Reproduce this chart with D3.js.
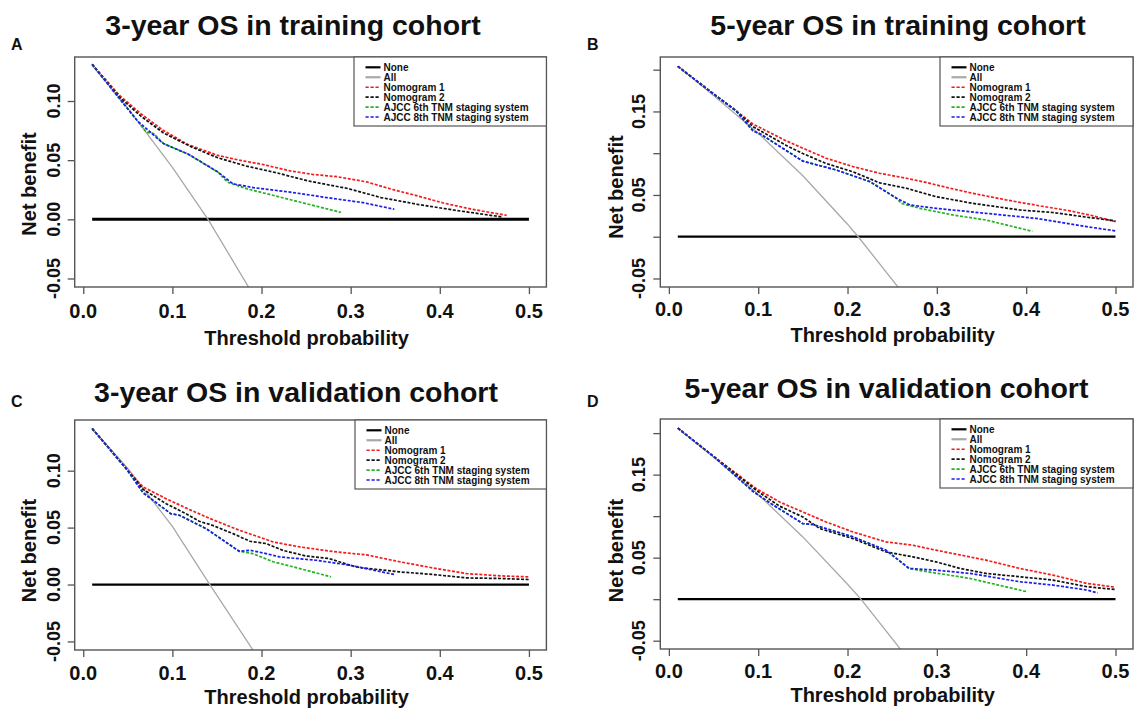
<!DOCTYPE html>
<html><head><meta charset="utf-8">
<script src="https://cdn.jsdelivr.net/npm/d3@7"></script>
<style>
html,body{margin:0;padding:0;background:#fff;}
svg{display:block;}
text{font-family:"Liberation Sans",Arial,Helvetica,sans-serif;font-weight:bold;fill:#111;}
</style></head>
<body>
<svg id="chart" width="1137" height="709"></svg>
<script>
// ---------------- DATA ----------------
const titles = ["3-year OS in training cohort","5-year OS in training cohort","3-year OS in validation cohort","5-year OS in validation cohort"];
const panelLetters = ["A","B","C","D"];
const legendLabels = ["None","All","Nomogram 1","Nomogram 2","AJCC 6th TNM staging system","AJCC 8th TNM staging system"];
const xTicks = [0,0.1,0.2,0.3,0.4,0.5];
const xTickLabels = ["0.0","0.1","0.2","0.3","0.4","0.5"];
const yTicksSmall = [-0.05,0,0.05,0.10];
const yTickLabelsSmall = ["-0.05","0.00","0.05","0.10"];
const yTicksLarge = [-0.05,0,0.05,0.10,0.15,0.20];
const yTickLabelsLarge = ["-0.05","","0.05","","0.15",""];
const noneLine = [[0.01,0],[0.5,0]];

// Panel A: 3-year OS training
const A_all = [[0.01,0.130],[0.05,0.094],[0.10,0.044],[0.14,0.0],[0.19,-0.063]];
const A_nom1 = [[0.01,0.131],[0.041,0.1045],[0.065,0.089],[0.09,0.075],[0.118,0.063],[0.151,0.054],[0.175,0.050],[0.2,0.0466],[0.232,0.041],[0.257,0.038],[0.285,0.036],[0.318,0.0316],[0.346,0.0254],[0.375,0.0198],[0.403,0.014],[0.436,0.0085],[0.475,0.0034]];
const A_nom2 = [[0.01,0.131],[0.041,0.103],[0.065,0.087],[0.09,0.073],[0.122,0.061],[0.151,0.052],[0.183,0.045],[0.216,0.0395],[0.252,0.0325],[0.297,0.026],[0.334,0.0184],[0.375,0.0127],[0.415,0.0079],[0.47,0.002]];
const A_ajcc6 = [[0.01,0.131],[0.041,0.1017],[0.061,0.083],[0.071,0.0735],[0.079,0.0725],[0.09,0.064],[0.118,0.055],[0.151,0.040],[0.162,0.0314],[0.184,0.0257],[0.225,0.018],[0.289,0.0059]];
const A_ajcc8 = [[0.01,0.131],[0.041,0.1017],[0.061,0.083],[0.09,0.064],[0.118,0.055],[0.151,0.040],[0.168,0.030],[0.191,0.0268],[0.232,0.023],[0.273,0.0184],[0.314,0.0141],[0.349,0.0085]];

// Panel B: 5-year OS training
const B_all = [[0.01,0.204],[0.05,0.169],[0.10,0.124],[0.15,0.073],[0.20,0.015],[0.212,0],[0.26,-0.065]];
const B_nom1 = [[0.01,0.204],[0.05,0.171],[0.075,0.151],[0.094,0.135],[0.105,0.129],[0.131,0.115],[0.150,0.106],[0.176,0.094],[0.206,0.084],[0.236,0.076],[0.266,0.070],[0.288,0.065],[0.311,0.059],[0.340,0.052],[0.378,0.044],[0.415,0.037],[0.449,0.031],[0.475,0.025],[0.5,0.018]];
const B_nom2 = [[0.01,0.204],[0.05,0.171],[0.075,0.151],[0.094,0.132],[0.131,0.1095],[0.150,0.0996],[0.176,0.0877],[0.206,0.0778],[0.236,0.0645],[0.266,0.058],[0.299,0.048],[0.340,0.040],[0.393,0.032],[0.430,0.029],[0.468,0.0234],[0.5,0.019]];
const B_ajcc6 = [[0.01,0.204],[0.05,0.171],[0.075,0.151],[0.094,0.127],[0.103,0.1226],[0.150,0.0905],[0.187,0.080],[0.225,0.066],[0.255,0.046],[0.26,0.040],[0.281,0.034],[0.318,0.026],[0.355,0.020],[0.407,0.0065]];
const B_ajcc8 = [[0.01,0.204],[0.05,0.171],[0.075,0.151],[0.094,0.127],[0.103,0.1226],[0.150,0.0905],[0.187,0.080],[0.225,0.066],[0.255,0.046],[0.270,0.038],[0.299,0.034],[0.355,0.028],[0.411,0.022],[0.468,0.012],[0.5,0.007]];

// Panel C: 3-year OS validation
const C_all = [[0.01,0.137],[0.05,0.102],[0.10,0.051],[0.142,0],[0.195,-0.063]];
const C_nom1 = [[0.01,0.137],[0.048,0.102],[0.067,0.0857],[0.093,0.0754],[0.115,0.0673],[0.142,0.058],[0.175,0.0477],[0.213,0.0374],[0.243,0.033],[0.280,0.029],[0.318,0.026],[0.355,0.020],[0.392,0.0146],[0.43,0.0096],[0.468,0.0076],[0.5,0.0067]];
const C_nom2 = [[0.01,0.137],[0.048,0.102],[0.067,0.0836],[0.093,0.071],[0.115,0.0623],[0.130,0.0556],[0.145,0.052],[0.168,0.0447],[0.187,0.038],[0.205,0.036],[0.224,0.030],[0.250,0.025],[0.276,0.0228],[0.299,0.017],[0.310,0.0149],[0.355,0.0111],[0.393,0.0088],[0.43,0.0058],[0.468,0.0053],[0.5,0.0044]];
const C_ajcc6 = [[0.01,0.137],[0.048,0.102],[0.067,0.0807],[0.098,0.0623],[0.108,0.0608],[0.138,0.049],[0.175,0.0292],[0.19,0.0272],[0.213,0.020],[0.243,0.014],[0.278,0.0067]];
const C_ajcc8 = [[0.01,0.137],[0.048,0.102],[0.067,0.0807],[0.098,0.0623],[0.108,0.0608],[0.138,0.049],[0.175,0.0292],[0.187,0.0301],[0.205,0.0272],[0.22,0.0243],[0.261,0.0213],[0.299,0.017],[0.349,0.0088]];

// Panel D: 5-year OS validation
const D_all = [[0.01,0.206],[0.05,0.171],[0.10,0.126],[0.15,0.075],[0.20,0.018],[0.215,0],[0.265,-0.068]];
const D_nom1 = [[0.01,0.206],[0.05,0.172],[0.098,0.133],[0.124,0.117],[0.150,0.105],[0.176,0.093],[0.206,0.081],[0.243,0.069],[0.273,0.065],[0.299,0.059],[0.318,0.055],[0.355,0.047],[0.393,0.037],[0.43,0.029],[0.468,0.019],[0.5,0.0144]];
const D_nom2 = [[0.01,0.206],[0.05,0.172],[0.098,0.131],[0.124,0.112],[0.150,0.099],[0.169,0.085],[0.206,0.073],[0.243,0.057],[0.273,0.051],[0.299,0.045],[0.326,0.037],[0.355,0.031],[0.393,0.027],[0.43,0.023],[0.468,0.015],[0.5,0.0116]];
const D_ajcc6 = [[0.01,0.206],[0.05,0.172],[0.094,0.130],[0.113,0.116],[0.150,0.091],[0.161,0.090],[0.206,0.075],[0.243,0.059],[0.269,0.037],[0.284,0.034],[0.337,0.025],[0.40,0.0092]];
const D_ajcc8 = [[0.01,0.206],[0.05,0.172],[0.094,0.130],[0.113,0.116],[0.150,0.091],[0.161,0.090],[0.206,0.075],[0.243,0.059],[0.269,0.037],[0.299,0.035],[0.337,0.031],[0.393,0.021],[0.43,0.017],[0.468,0.011],[0.48,0.0076]];

// ---------------- LAYOUT / STYLE ----------------
const seriesStyle = [
  {color:"#000000", width:2.2, dash:null},      // None
  {color:"#a8a8a8", width:1.3, dash:null},      // All
  {color:"#f21c1c", width:1.7, dash:"3,1.6"},   // Nomogram 1
  {color:"#111111", width:1.7, dash:"3,1.6"},   // Nomogram 2
  {color:"#22b222", width:1.7, dash:"3,1.6"},   // AJCC 6th
  {color:"#1c1ced", width:1.7, dash:"3,1.6"}    // AJCC 8th
];

const panels = [
  {series:[noneLine,A_all,A_nom1,A_nom2,A_ajcc6,A_ajcc8], box:[74.7,57,546.4,287], yDom:[-0.0572,0.1372],
   yTicks:yTicksSmall, yLabels:yTickLabelsSmall, title:[293,35], letter:[11,50], ylab:[36,184],
   yTickX:60, xTickY:318, xLabY:345, legendLeft:354, noneW:3},
  {series:[noneLine,B_all,B_nom1,B_nom2,B_ajcc6,B_ajcc8], box:[660.3,57,1133,287], yDom:[-0.0602,0.2152],
   yTicks:yTicksLarge, yLabels:yTickLabelsLarge, title:[898,34.5], letter:[587,50], ylab:[623,187],
   yTickX:645, xTickY:316, xLabY:342, legendLeft:940, noneW:2.2},
  {series:[noneLine,C_all,C_nom1,C_nom2,C_ajcc6,C_ajcc8], box:[74.7,420,546.4,650], yDom:[-0.0575,0.1445],
   yTicks:yTicksSmall, yLabels:yTickLabelsSmall, title:[296,401.5], letter:[11,406.5], ylab:[36,550.5],
   yTickX:60, xTickY:680, xLabY:704, legendLeft:355, noneW:2.2},
  {series:[noneLine,D_all,D_nom1,D_nom2,D_ajcc6,D_ajcc8], box:[660.3,419,1133,649], yDom:[-0.06,0.217],
   yTicks:yTicksLarge, yLabels:yTickLabelsLarge, title:[886.5,398], letter:[587,406.5], ylab:[623,550.5],
   yTickX:645, xTickY:678, xLabY:702, legendLeft:940, noneW:2.2}
];

const svg = d3.select("#chart");
svg.append("rect").attr("width",1137).attr("height",709).attr("fill","#fff");
const defs = svg.append("defs");

panels.forEach((p, i) => {
  const [x0,y0,x1,y1] = p.box;
  const x = d3.scaleLinear().domain([-0.0096,0.5196]).range([x0,x1]);
  const y = d3.scaleLinear().domain(p.yDom).range([y1,y0]);
  const g = svg.append("g");

  defs.append("clipPath").attr("id","clip"+i)
    .append("rect").attr("x",x0).attr("y",y0).attr("width",x1-x0).attr("height",y1-y0);

  // axes (ticks only; box drawn separately)
  const xAxis = g.append("g").attr("transform",`translate(0,${y1})`)
    .call(d3.axisBottom(x).tickValues(xTicks).tickSize(7).tickFormat(""));
  const yAxis = g.append("g").attr("transform",`translate(${x0},0)`)
    .call(d3.axisLeft(y).tickValues(p.yTicks).tickSize(7).tickFormat(""));
  [xAxis,yAxis].forEach(a => {
    a.select(".domain").remove();
    a.selectAll(".tick line").attr("stroke","#555").attr("stroke-width",1.3);
  });

  // tick labels
  g.selectAll(".xtl").data(xTicks).enter().append("text")
    .attr("x", d => x(d)).attr("y", p.xTickY).attr("text-anchor","middle")
    .attr("font-size","20px").text((d,k) => xTickLabels[k]);
  g.selectAll(".ytl").data(p.yTicks).enter().append("text")
    .attr("transform", d => `translate(${p.yTickX},${y(d)}) rotate(-90)`)
    .attr("text-anchor","middle").attr("font-size","18px").text((d,k) => p.yLabels[k]);

  // data lines
  const line = d3.line().x(d => x(d[0])).y(d => y(d[1]));
  const lg = g.append("g").attr("clip-path",`url(#clip${i})`);
  p.series.forEach((s, k) => {
    const st = seriesStyle[k];
    lg.append("path").attr("d", line(s)).attr("fill","none")
      .attr("stroke", st.color).attr("stroke-width", k===0 ? p.noneW : st.width)
      .attr("stroke-dasharray", st.dash);
  });

  // box
  g.append("rect").attr("x",x0).attr("y",y0).attr("width",x1-x0).attr("height",y1-y0)
    .attr("fill","none").attr("stroke","#555").attr("stroke-width",1.4);

  // legend
  const L = p.legendLeft;
  g.append("rect").attr("x",L).attr("y",y0).attr("width",x1-L).attr("height",69)
    .attr("fill","#fff").attr("stroke","#555").attr("stroke-width",1.2);
  legendLabels.forEach((lab, k) => {
    const st = seriesStyle[k];
    const ry = y0 + 10.3 + k*9.95;
    g.append("line").attr("x1",L+11.5).attr("x2",L+26.5).attr("y1",ry).attr("y2",ry)
      .attr("stroke",st.color).attr("stroke-width", k<2 ? 2.2 : 1.6)
      .attr("stroke-dasharray", st.dash ? "3.2,1.8" : null);
    g.append("text").attr("x",L+29.5).attr("y",ry+3.6).attr("font-size","10px").text(lab);
  });

  // titles and labels
  g.append("text").attr("x",p.title[0]).attr("y",p.title[1]).attr("text-anchor","middle")
    .attr("font-size","28.5px").text(titles[i]);
  g.append("text").attr("x",p.letter[0]).attr("y",p.letter[1]).attr("font-size","16px").text(panelLetters[i]);
  g.append("text").attr("x",(x0+x1)/2 - 4).attr("y",p.xLabY).attr("text-anchor","middle")
    .attr("font-size","20px").text("Threshold probability");
  g.append("text").attr("transform",`translate(${p.ylab[0]},${p.ylab[1]}) rotate(-90)`)
    .attr("text-anchor","middle").attr("font-size","20px").text("Net benefit");
});
</script>
</body></html>
